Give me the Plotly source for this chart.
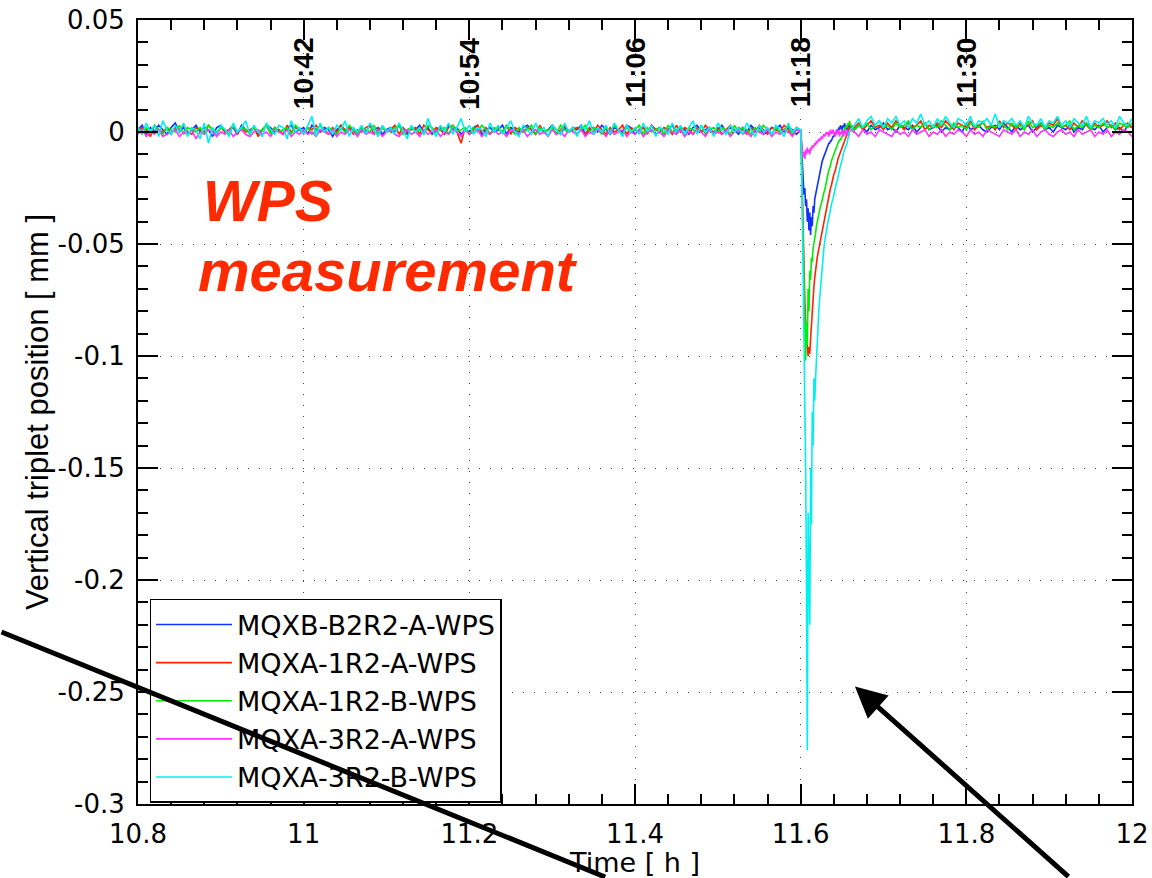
import numpy as np
import plotly.graph_objects as go

# ---------------- data (values in micrometres, plotted in mm) ----------------
# sampling grid: (start, stop, step) in hours
SEG_A = (10.800, 11.600, 0.005)   # quiet period before the event
SEG_B = (11.601, 11.660, 0.001)   # event (fine sampling)
SEG_C = (11.665, 12.000, 0.005)   # after the event

SERIES_NAMES = ["MQXB-B2R2-A-WPS", "MQXA-1R2-A-WPS", "MQXA-1R2-B-WPS",
                "MQXA-3R2-A-WPS", "MQXA-3R2-B-WPS"]
SERIES_COLORS = ["#1030ff", "#ff2200", "#00ee00", "#ff33ff", "#00f0f0"]

blue_a = [1,3,-1,2,0,3,1,-1,2,4,0,2,-1,1,3,0,2,1,-2,2,
          3,0,1,2,-1,3,1,0,2,-1,1,3,2,0,1,-1,2,3,0,1,
          2,-1,3,1,0,2,1,-2,1,3,0,2,1,-1,2,0,3,1,2,-1,
          1,2,0,3,1,-1,2,1,3,0,2,-1,1,2,0,3,1,2,-1,1,
          0,2,3,-1,1,2,0,1,3,-1,2,1,0,2,3,1,-1,2,0,1,
          3,1,-1,2,0,2,1,3,-1,1,2,0,3,1,-1,2,1,0,3,2,
          -1,1,2,0,3,1,2,-1,1,3,0,2,1,-1,2,3,0,1,2,-1,
          1,3,0,2,1,-1,2,0,3,1,2,-1,0,2,1,3,0,2,1,-1,
          1]
blue_b = [-8,-16,-22,-28,-25,-33,-30,-40,-34,-44,
          -36,-46,-38,-42,-33,-36,-30,-28,-27,-25,
          -23,-21,-19,-17,-15,-13,-12,-11,-10,-9,
          -8,-7,-6,-5,-5,-4,-4,-3,-2,-2,
          -1,-1,0,1,0,2,1,3,2,1,
          3,2,4,2,3,1,3,2,4,2]
blue_c = [1,3,2,0,3,1,2,4,1,2,0,3,2,1,3,0,2,4,1,2,
          3,0,2,1,3,2,0,4,1,2,3,1,0,2,3,1,4,2,0,3,
          1,2,3,0,2,4,1,2,0,3,2,1,3,0,2,1,4,2,1,3,
          0,2,3,1,2,0,3,2]

red_a = [0,2,1,-2,3,1,0,2,-1,2,1,3,0,-1,2,1,0,3,1,-1,
         2,0,1,3,-1,2,0,1,2,-2,1,3,0,2,1,-1,3,0,2,1,
         -1,2,1,3,0,1,-1,2,0,3,1,2,-1,1,0,2,3,-1,1,2,
         0,1,3,-1,2,0,1,2,-1,3,1,0,2,1,-1,2,3,0,-5,2,
         -1,1,3,0,2,-1,1,2,0,3,-1,2,1,0,2,1,-1,3,0,1,
         2,-1,1,3,0,1,2,1,-1,2,0,3,1,-1,2,0,1,3,-1,2,
         1,0,2,-1,3,1,0,2,1,-1,3,0,2,1,-1,2,0,3,1,0,
         2,-1,1,3,0,2,1,-1,2,0,3,1,-1,2,1,0,3,1,-1,2,
         0]
red_b = [-10,-30,-50,-65,-75,-85,-92,-98,-100,-96,
         -99,-92,-85,-79,-74,-69,-65,-61,-58,-56,
         -54,-52,-51,-49,-46,-44,-42,-40,-38,-36,
         -34,-32,-30,-28,-27,-25,-24,-22,-21,-19,
         -18,-17,-15,-14,-12,-11,-10,-9,-8,-7,
         -6,-5,-4,-3,-2,-1,0,2,1,3]
red_c = [2,4,1,3,5,2,3,1,4,2,5,3,1,4,2,3,5,1,3,2,
         4,2,5,3,1,4,3,2,5,1,3,4,2,3,1,5,2,4,3,1,
         4,2,3,5,1,3,2,4,3,6,2,3,1,4,2,5,3,1,4,2,
         3,5,2,4,1,3,4,2]

green_a = [1,-1,2,0,3,1,-1,2,1,0,3,-1,2,1,0,2,-1,3,1,0,
           2,1,-1,3,0,2,1,-1,2,0,1,3,-1,2,0,1,2,-1,3,1,
           0,2,-1,1,3,0,2,1,-1,2,0,3,1,-1,2,1,0,3,-1,2,
           1,0,2,3,-1,1,2,0,1,-1,3,2,0,1,2,-1,3,0,1,2,
           -1,2,0,3,1,-1,2,1,0,3,1,-1,2,0,1,3,-1,2,0,1,
           2,-1,3,1,0,2,-1,1,3,0,2,1,-1,2,0,3,1,-1,2,0,
           1,3,-1,2,0,1,2,-1,3,0,1,2,-1,2,1,0,3,-1,1,2,
           0,2,1,-1,3,0,2,1,-1,2,0,3,1,-1,2,0,1,3,-1,2,
           1]
green_b = [-15,-40,-60,-75,-90,-102,-85,-95,-70,-80,
           -62,-66,-56,-58,-52,-50,-48,-45,-42,-40,
           -38,-36,-35,-33,-32,-30,-29,-27,-26,-24,
           -22,-20,-19,-17,-16,-15,-13,-12,-11,-10,
           -9,-8,-7,-6,-5,-4,-4,-3,-3,-2,
           -1,0,2,1,3,2,4,3,5,3]
green_c = [1,3,2,4,1,3,5,2,3,1,4,2,3,5,1,3,2,4,1,3,
           2,5,3,1,4,2,3,1,4,3,2,5,1,3,2,4,3,1,4,2,
           3,1,5,2,3,4,1,3,2,4,2,3,5,1,3,2,4,1,3,2,
           4,2,3,1,4,3,2,4]

magenta_a = [-1,1,-2,0,-1,1,-2,-1,0,1,-2,0,-1,1,-3,0,-1,1,0,-2,
             0,-1,1,-2,0,1,-1,-2,0,1,-1,0,-2,1,0,-1,1,-2,0,-1,
             1,-1,0,-2,1,0,-1,1,-2,0,-1,1,0,-2,1,-1,0,-1,1,-2,
             0,1,-1,-2,0,1,-1,0,-2,1,-1,0,1,-2,0,-1,1,0,-2,1,
             -1,0,1,-2,0,-1,1,-1,0,-2,1,0,-1,1,-2,0,1,-1,0,-2,
             1,-1,0,-2,1,0,-1,1,-2,0,-1,1,0,-2,1,-1,0,1,-2,0,
             -1,1,-2,0,1,-1,0,-2,1,0,-1,1,-2,0,-1,1,0,-2,1,-1,
             0,-1,1,-2,0,1,-1,0,-2,1,0,-1,1,-2,0,-1,1,0,-2,1,
             0]
magenta_b = [-4,-8,-11,-9,-12,-8,-10,-7,-9,-8,
             -10,-7,-8,-6,-7,-6,-5,-6,-4,-5,
             -4,-3,-4,-3,-2,-3,-2,-1,-2,-1,
             0,-1,0,-2,0,1,-1,0,1,-1,
             0,-2,1,-1,0,1,-2,0,-1,1,
             0,-2,1,-1,0,1,-1,-2,0,1]
magenta_c = [0,-2,1,-1,0,-2,1,0,-1,-2,1,-1,0,-2,1,-1,0,1,-2,0,
             -1,1,-2,0,-1,1,0,-2,1,-1,0,-2,1,0,-1,-2,1,0,-1,1,
             -2,0,-1,1,-2,0,1,-1,-2,0,1,-1,0,-2,1,-1,0,1,-2,0,
             -1,1,-2,0,-1,1,0,-2]

cyan_a = [2,-1,4,0,3,-2,5,1,-1,3,0,4,-2,2,1,-3,4,-5,2,-1,
          3,1,-2,4,0,2,5,-1,3,0,-2,4,1,-1,3,2,-3,5,0,2,
          -1,3,7,-2,4,0,2,-1,3,1,5,-2,2,0,3,-1,4,1,-2,3,
          0,2,-1,4,1,-3,3,0,2,-1,6,1,-2,3,0,4,-1,2,6,0,
          3,-1,2,1,-2,4,0,3,-1,2,5,0,-2,3,1,-1,4,0,2,-2,
          3,1,-1,4,0,2,-2,3,1,5,-1,2,0,3,-1,4,1,-2,3,0,
          2,-1,4,0,3,-2,2,1,-1,4,0,3,-1,2,5,-1,3,0,2,-2,
          4,1,-1,3,0,2,-1,4,1,-2,3,0,2,-1,3,1,-2,4,0,2,
          1]
cyan_b = [-10,-35,-60,-85,-110,-150,-200,-276,-170,-215,
          -220,-150,-175,-125,-140,-110,-120,-110,-100,-92,
          -85,-79,-74,-69,-64,-60,-56,-52,-49,-46,
          -44,-42,-40,-38,-36,-35,-33,-31,-30,-28,
          -27,-25,-23,-22,-20,-18,-17,-15,-14,-12,
          -11,-9,-8,-7,-6,-5,-3,-2,0,1]
cyan_c = [3,6,2,5,7,3,5,2,6,4,7,3,5,2,6,4,8,3,5,2,
          6,3,7,4,2,6,5,3,7,2,5,4,6,3,8,2,5,4,6,3,
          5,2,7,4,3,6,2,5,4,7,3,5,2,6,4,3,7,2,5,4,
          6,3,5,2,7,4,3,6]

X_TICKS = [10.8, 11.0, 11.2, 11.4, 11.6, 11.8, 12.0]
X_TICK_TEXT = ["10.8", "11", "11.2", "11.4", "11.6", "11.8", "12"]
Y_TICKS = [0.05, 0.0, -0.05, -0.1, -0.15, -0.2, -0.25, -0.3]
Y_TICK_TEXT = ["0.05", "0", "-0.05", "-0.1", "-0.15", "-0.2", "-0.25", "-0.3"]
TOP_TICK_POS = [11.0, 11.2, 11.4, 11.6, 11.8]
TOP_TICK_TEXT = ["10:42", "10:54", "11:06", "11:18", "11:30"]


def grid(start, stop, step):
    n = int(round((stop - start) / step)) + 1
    return start + step * np.arange(n)


time_h = np.concatenate([grid(*SEG_A), grid(*SEG_B), grid(*SEG_C)])

series_um = [blue_a + blue_b + blue_c,
             red_a + red_b + red_c,
             green_a + green_b + green_c,
             magenta_a + magenta_b + magenta_c,
             cyan_a + cyan_b + cyan_c]

fig = go.Figure()
for name, color, vals in zip(SERIES_NAMES, SERIES_COLORS, series_um):
    assert len(vals) == len(time_h), (name, len(vals), len(time_h))
    fig.add_trace(go.Scatter(x=time_h, y=np.array(vals) / 1000.0, mode="lines",
                             name=name, line=dict(color=color, width=1.6)))

TICK_FONT = dict(family="DejaVu Sans", size=26, color="black")
axis_common = dict(
    showline=True, linecolor="black", linewidth=2, mirror="ticks",
    ticks="inside", ticklen=20, tickwidth=1.5, tickcolor="black",
    showgrid=True, gridcolor="#444444", gridwidth=1, griddash="1px,10px",
    zeroline=False, tickfont=TICK_FONT, automargin=False,
)

fig.update_xaxes(
    range=[10.8, 12.0], tickmode="array", tickvals=X_TICKS, ticktext=X_TICK_TEXT,
    minor=dict(dtick=0.04, tick0=10.8, ticks="inside", ticklen=10,
               tickwidth=1.5, tickcolor="black", showgrid=False),
    title=dict(text="Time [ h ]", font=dict(family="DejaVu Sans", size=27, color="black"),
               standoff=2),
    ticklabelstandoff=6,
    **axis_common,
)
fig.update_yaxes(
    range=[-0.3, 0.05], tickmode="array", tickvals=Y_TICKS, ticktext=Y_TICK_TEXT,
    minor=dict(dtick=0.01, tick0=0.0, ticks="inside", ticklen=10,
               tickwidth=1.5, tickcolor="black", showgrid=False),
    title=dict(text="Vertical triplet position [ mm ]",
               font=dict(family="Liberation Sans", size=31, color="black"),
               standoff=0),
    ticklabelstandoff=6,
    **axis_common,
)

annotations = []
for pos, txt in zip(TOP_TICK_POS, TOP_TICK_TEXT):
    annotations.append(dict(
        x=pos, xref="x", y=0.979, yref="paper", text="<b>%s</b>" % txt,
        textangle=-90, showarrow=False, xanchor="center", yanchor="top",
        font=dict(family="Liberation Sans", size=28, color="black"), borderpad=0))

annotations.append(dict(
    x=0.064, y=0.769, xref="paper", yref="paper", text="<b><i>WPS</i></b>",
    showarrow=False, xanchor="left", yanchor="middle",
    font=dict(family="Liberation Sans", size=57, color="#ff2a00"), borderpad=0))
annotations.append(dict(
    x=0.059, y=0.680, xref="paper", yref="paper", text="<b><i>measurement</i></b>",
    showarrow=False, xanchor="left", yanchor="middle",
    font=dict(family="Liberation Sans", size=58, color="#ff2a00"), borderpad=0))

# pointer arrows drawn over the figure
annotations.append(dict(
    x=11.6655, y=-0.2475, xref="x", yref="y", text="", showarrow=True,
    ax=215, ay=215, axref="pixel", ayref="pixel",
    arrowhead=2, arrowsize=1.25, arrowwidth=5, arrowcolor="black", standoff=0))
annotations.append(dict(
    x=0.47, y=-0.1077, xref="paper", yref="paper", text="", showarrow=True,
    ax=-620, ay=-257, axref="pixel", ayref="pixel",
    arrowhead=0, arrowwidth=5, arrowcolor="black", standoff=0))

fig.update_layout(
    template="none",
    width=1152, height=878,
    margin=dict(l=138, r=20, t=20, b=74, pad=0, autoexpand=False),
    paper_bgcolor="white", plot_bgcolor="white",
    annotations=annotations,
    showlegend=True,
    legend=dict(
        x=0.0116, y=0.2615, xanchor="left", yanchor="top",
        bgcolor="white", bordercolor="black", borderwidth=1.5,
        font=dict(family="DejaVu Sans", size=27, color="black"),
        itemwidth=76, tracegroupgap=0,
    ),
)

fig.write_html("out.html", config={"displayModeBar": False},
               post_script="document.body.style.margin='0';")
